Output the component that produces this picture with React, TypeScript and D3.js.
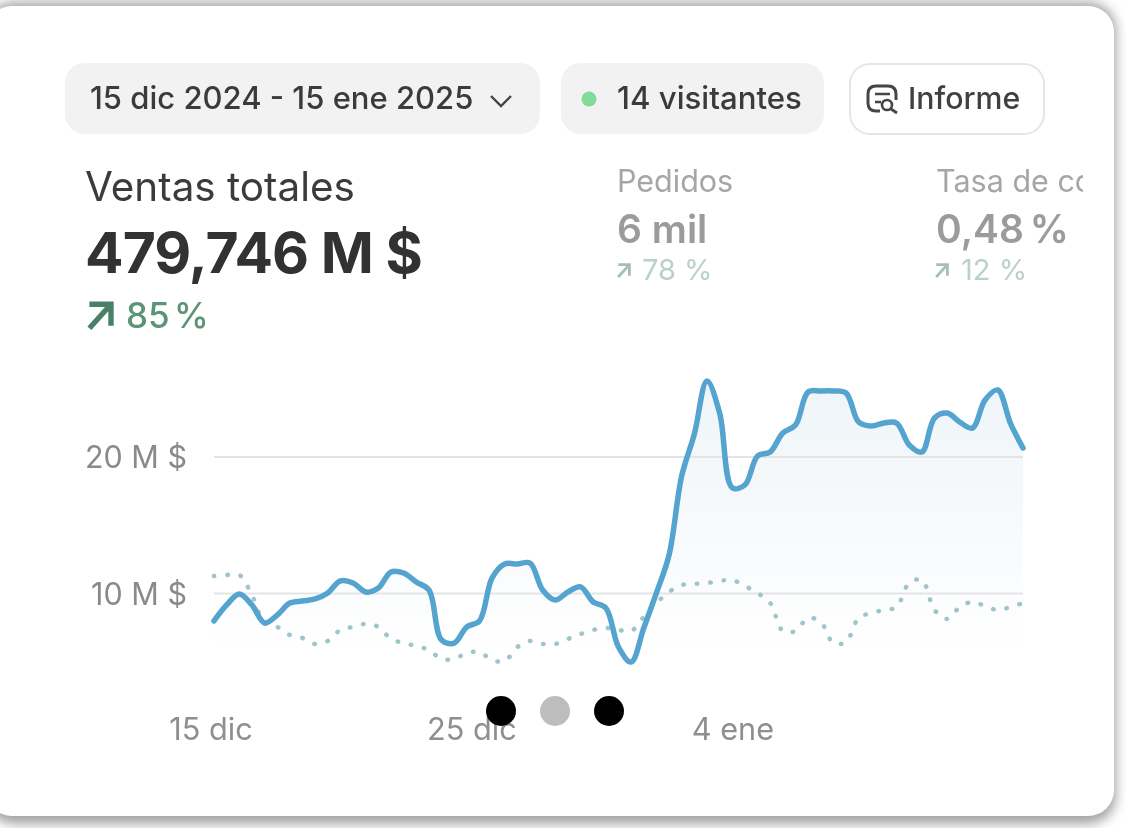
import React from "react";
import * as d3 from "d3";

const totalSales = [7.99,9.16,9.96,9.16,7.84,8.42,9.30,9.45,9.60,10.04,10.92,10.77,10.11,10.40,11.58,11.50,10.84,10.26,6.59,6.37,7.55,7.99,11.14,12.16,12.16,12.23,10.26,9.52,10.11,10.48,9.38,8.94,6.08,4.98,7.47,10.04,12.82,18.61,21.69,25.57,23.22,17.75,17.95,20.07,20.37,21.76,22.34,24.76,24.84,24.84,24.69,22.56,22.27,22.49,22.49,20.88,20.37,22.86,23.22,22.56,22.12,24.18,24.91,22.49,20.66];
const previousSales = [11.28,11.36,11.36,9.89,7.84,7.55,6.96,6.74,6.30,6.52,7.33,7.55,7.77,7.55,6.67,6.37,6.15,5.86,5.20,5.20,5.64,5.71,5.13,5.05,6.08,6.52,6.30,6.30,6.67,7.03,7.33,7.47,7.33,7.25,8.28,9.30,10.11,10.62,10.70,10.77,10.92,10.99,10.55,10.04,9.30,7.25,7.25,8.21,7.91,6.37,6.45,8.21,8.57,8.79,9.01,10.77,10.99,8.79,8.13,9.01,9.38,9.08,8.79,9.01,9.30];
const yTicks = [10, 20];
const yTickLabels = ["10 M $", "20 M $"];
const xTickDays = [0, 10, 20];
const xTickLabels = ["15 dic", "25 dic", "4 ene"];
const carouselDots = ["#000000", "#bdbdbd", "#000000"];

const FONT = "Inter, 'Noto Sans', sans-serif";
const x = d3.scaleLinear().domain([0, totalSales.length - 1]).range([214, 1023]);
const xDay = d3.scaleLinear().domain([0, 31]).range([214, 1023]);
const y = d3.scaleLinear().domain([0, 20]).range([730, 457]);
const curve = d3.curveCatmullRom.alpha(0.5);
const line = d3.line<number>().x((_, i) => x(i)).y((d) => y(d)).curve(curve);
const area = d3.area<number>().x((_, i) => x(i)).y0(y(0)).y1((d) => y(d)).curve(curve);

const Arrow = ({ tx, ty, s, color, w }: any) => (
  <path
    transform={`translate(${tx},${ty}) scale(${s})`}
    d="M2 1H20V19M20 1L2 21"
    fill="none"
    stroke={color}
    strokeWidth={w}
  />
);

export default function App() {
  return (
    <svg
      width={1126}
      height={828}
      viewBox="0 0 1126 828"
      style={{ position: "absolute", left: 0, top: 0, display: "block", background: "#fff" }}
      fontFamily={FONT}
    >
      <defs>
        <filter id="shadow" x="-5%" y="-5%" width="110%" height="110%">
          <feGaussianBlur stdDeviation="6" />
        </filter>
        <filter id="soft" x="-2%" y="-2%" width="104%" height="104%">
          <feGaussianBlur stdDeviation="0.7" />
        </filter>
        <linearGradient id="areaFill" gradientUnits="userSpaceOnUse" x1="0" y1="380" x2="0" y2="650">
          <stop offset="0" stopColor="#eef5f9" />
          <stop offset="0.5" stopColor="#f7f9fb" />
          <stop offset="1" stopColor="#ffffff" />
        </linearGradient>
        <clipPath id="statClip">
          <rect x="600" y="150" width="483" height="150" />
        </clipPath>
      </defs>

      <rect x={-14} y={2} width={1130} height={822} rx={28} fill="#a3a3a3" filter="url(#shadow)" />
      <rect x={-14} y={6} width={1128} height={810} rx={26} fill="#ffffff" />

      <g filter="url(#soft)">
        <rect x={65} y={63} width={475} height={71} rx={20} fill="#f2f2f2" />
        <text x={90} y={109} fontSize={31} fontWeight={500} fill="#3a3a3a">15 dic 2024 - 15 ene 2025</text>
        <path d="M491 96L501 106L511 96" fill="none" stroke="#444" strokeWidth={2.4} />

        <rect x={561} y={63} width={263} height={71} rx={20} fill="#f2f2f2" />
        <circle cx={589} cy={99} r={7.5} fill="#7fdc9a" />
        <text x={617} y={109} fontSize={31.2} fontWeight={500} fill="#3a3a3a">14 visitantes</text>

        <rect x={850} y={64} width={194} height={70} rx={20} fill="#fff" stroke="#e6e6e6" strokeWidth={2} />
        <path d="M880 111H876Q868 111 868 103V94Q868 86 876 86H888Q896 86 896 94V100" fill="none" stroke="#444" strokeWidth={3} />
        <path d="M875 94H890M875 102H881" stroke="#444" strokeWidth={2.5} />
        <circle cx={887} cy={105} r={5} fill="#fff" stroke="#444" strokeWidth={2.6} />
        <path d="M891 109L897 113" stroke="#444" strokeWidth={2.8} />
        <text x={908} y={109} fontSize={30.3} fontWeight={500} fill="#3f3f3f">Informe</text>

        <text x={85} y={201} fontSize={40.4} fontWeight={400} fill="#3b3b3b">Ventas totales</text>
        <text x={85} y={273} fontSize={57} fontWeight={700} fill="#303030" letterSpacing={-0.9}>479,746 M $</text>
        <Arrow tx={87} ty={303} s={1.2} color="#4a8166" w={4.5} />
        <text x={126} y={328} fontSize={35} fontWeight={500} fill="#5b9478" wordSpacing={-5}>85 %</text>

        <g clipPath="url(#statClip)">
          <text x={617} y={192} fontSize={30.5} fill="#a6a6a6">Pedidos</text>
          <text x={617} y={243} fontSize={39} fontWeight={600} fill="#9b9b9b">6 mil</text>
          <Arrow tx={617} ty={264} s={0.62} color="#a5c0b3" w={4.5} />
          <text x={642} y={280} fontSize={29} fill="#b9d2c7">78 %</text>
          <text x={936} y={192} fontSize={30.5} fill="#a6a6a6">Tasa de conversión</text>
          <text x={936} y={243} fontSize={39} fontWeight={600} fill="#9b9b9b" wordSpacing={-4}>0,48 %</text>
          <Arrow tx={935} ty={264} s={0.62} color="#a5c0b3" w={4.5} />
          <text x={961} y={280} fontSize={29} fill="#b9d2c7">12 %</text>
        </g>

        <path d={area(totalSales)!} fill="url(#areaFill)" />
        {yTicks.map((t, i) => (
          <g key={t}>
            <line x1={214} x2={1023} y1={y(t)} y2={y(t)} stroke="#e3e5e5" strokeWidth={2} />
            <text x={187} y={y(t) + 11} textAnchor="end" fontSize={30.5} fill="#8a8a8a">{yTickLabels[i]}</text>
          </g>
        ))}
        {xTickDays.map((d, i) => (
          <text key={d} x={xDay(d) - 3} y={740} textAnchor="middle" fontSize={30.7} fill="#8f8f8f">{xTickLabels[i]}</text>
        ))}
        <path d={line(previousSales)!} fill="none" stroke="#9fc5cc" strokeWidth={4.5} strokeLinecap="round" strokeDasharray="0.5 13" />
        <path d={line(totalSales)!} fill="none" stroke="#55a3cf" strokeWidth={5.5} strokeLinejoin="round" strokeLinecap="round" />
      </g>

      {carouselDots.map((c, i) => (
        <circle key={i} cx={501 + i * 54} cy={711} r={15} fill={c} />
      ))}
    </svg>
  );
}
